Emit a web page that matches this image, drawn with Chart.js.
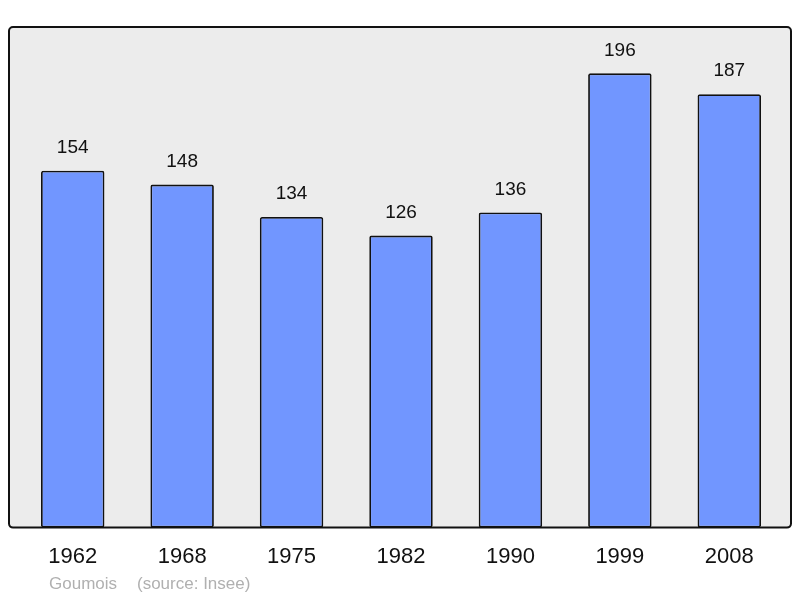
<!DOCTYPE html>
<html>
<head>
<meta charset="utf-8">
<script src="https://cdn.jsdelivr.net/npm/chart.js@4/dist/chart.umd.min.js"></script>
<style>
  html, body { margin: 0; padding: 0; background: #fff; }
  #wrap { width: 800px; height: 598px; }
</style>
</head>
<body>
<div id="wrap"><canvas id="chart"></canvas></div>
<script>
// population data
const years = ["1962", "1968", "1975", "1982", "1990", "1999", "2008"];
const population = [154, 148, 134, 126, 136, 196, 187];
const placeName = "Goumois";
const sourceText = "(source: Insee)";

const $chart = document.getElementById("chart").getContext("2d");

// gray box behind the bars
const boxPlugin = {
  id: "box",
  beforeDraw(chart) {
    const { ctx, chartArea } = chart;
    const x = chartArea.left - 9, y = chartArea.top;
    const w = chartArea.right - chartArea.left + 16, h = chartArea.bottom - chartArea.top;
    ctx.save();
    ctx.beginPath();
    ctx.roundRect(x, y, w, h, 4);
    ctx.fillStyle = "#ececec";
    ctx.fill();
    ctx.lineWidth = 2;
    ctx.strokeStyle = "#111";
    ctx.stroke();
    ctx.restore();
  },
};

// value above each bar + footer text
const labelPlugin = {
  id: "labels",
  afterDatasetsDraw(chart) {
    const { ctx } = chart;
    const meta = chart.getDatasetMeta(0);
    ctx.save();
    ctx.font = "19px 'Liberation Sans', Arial, sans-serif";
    ctx.fillStyle = "#111";
    ctx.textAlign = "center";
    ctx.textBaseline = "middle";
    meta.data.forEach((bar, i) => {
      ctx.fillText(population[i], bar.x, bar.y - 23);
    });
    ctx.font = "17px 'Liberation Sans', Arial, sans-serif";
    ctx.fillStyle = "#b0b0b0";
    ctx.textAlign = "left";
    ctx.fillText(placeName, 49, 584);
    ctx.fillText(sourceText, 137, 584);
    ctx.restore();
  },
};

const chartOption = {
  type: "bar",
  data: {
    labels: years,
    datasets: [
      {
        data: population,
        backgroundColor: "#7196ff",
        borderColor: "#111",
        borderWidth: 1.8,
        borderRadius: 2,
        borderSkipped: false,
        barPercentage: 0.58,
        categoryPercentage: 1,
      },
    ],
  },
  options: {
    responsive: true,
    maintainAspectRatio: false,
    animation: false,
    layout: { padding: { left: 18, right: 16, top: 27, bottom: 20 } },
    plugins: { legend: { display: false }, tooltip: { enabled: false } },
    scales: {
      y: { display: false, min: 0, max: 216 },
      x: {
        grid: { display: false },
        border: { display: false },
        ticks: {
          color: "#111",
          padding: 8,
          font: { size: 22, family: "'Liberation Sans', Arial, sans-serif" },
        },
      },
    },
  },
  plugins: [boxPlugin, labelPlugin],
};

const areaChart = new Chart($chart, chartOption);
</script>
</body>
</html>
